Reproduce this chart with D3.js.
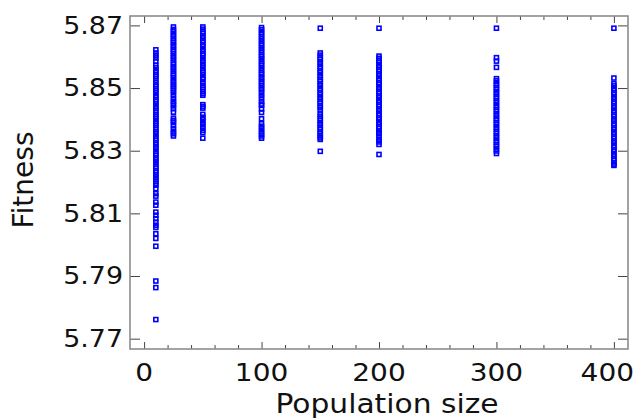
<!DOCTYPE html>
<html>
<head>
<meta charset="utf-8">
<script src="https://cdn.jsdelivr.net/npm/d3@7"></script>
<style>
    html, body { margin: 0; padding: 0; background: #fff; }
    svg { display: block; }
    text { font-family: "DejaVu Sans", sans-serif; fill: #111; }
</style>
</head>
<body>
<svg id="chart" width="636" height="418"></svg>
<script>
// population sizes (x) and fitness of every run at that size (y)
const populations = [10, 25, 50, 100, 150, 200, 300, 400];

const fit10 = [
    5.8622, 5.8612, 5.8604, 5.8596, 5.8586, 5.8572, 5.8565, 5.8556,
    5.8550, 5.8543, 5.8537, 5.8530, 5.8519, 5.8512, 5.8506, 5.8498, 5.8491, 5.8485, 5.8477, 5.8471,
    5.8463, 5.8457, 5.8450, 5.8442, 5.8436, 5.8429, 5.8423, 5.8415, 5.8408, 5.8402, 5.8394, 5.8388,
    5.8381, 5.8373, 5.8367, 5.8360, 5.8354, 5.8346, 5.8339, 5.8333, 5.8325, 5.8319, 5.8312, 5.8306,
    5.8298, 5.8291, 5.8285, 5.8277, 5.8271, 5.8264, 5.8257, 5.8250, 5.8244, 5.8236, 5.8230, 5.8223,
    5.8216, 5.8209, 5.8202, 5.8196,
    5.8190, 5.8179, 5.8163, 5.8155, 5.8136, 5.8126, 5.8104, 5.8094, 5.8083, 5.8072, 5.8062, 5.8055,
    5.8035, 5.8020, 5.7995,
    5.7884, 5.7863, 5.7761
];
const fit25 = [
    5.8695, 5.8687, 5.8680, 5.8672, 5.8666, 5.8658, 5.8651, 5.8645, 5.8637, 5.8631, 5.8623, 5.8617,
    5.8610, 5.8602, 5.8596, 5.8589, 5.8581, 5.8575, 5.8567, 5.8561, 5.8554, 5.8546, 5.8540, 5.8533,
    5.8525, 5.8519, 5.8512, 5.8506,
    5.8500, 5.8493, 5.8485, 5.8477, 5.8466, 5.8458, 5.8450, 5.8443, 5.8434, 5.8423,
    5.8404, 5.8397, 5.8390, 5.8381,
    5.8370, 5.8362, 5.8354, 5.8347
];
const fit50 = [
    5.8695, 5.8688, 5.8680, 5.8674, 5.8666, 5.8660, 5.8652, 5.8646, 5.8638, 5.8632, 5.8624, 5.8618,
    5.8610, 5.8604, 5.8596, 5.8587, 5.8580, 5.8572, 5.8564, 5.8556, 5.8549, 5.8542, 5.8534, 5.8528,
    5.8519, 5.8509, 5.8502, 5.8495, 5.8488, 5.8482, 5.8477,
    5.8447, 5.8441, 5.8436,
    5.8416, 5.8407, 5.8400, 5.8391, 5.8383, 5.8375, 5.8365, 5.8358, 5.8340
];
const fit100 = [
    5.8693, 5.8686, 5.8678, 5.8672, 5.8664, 5.8657, 5.8650, 5.8642, 5.8636, 5.8628, 5.8621, 5.8614,
    5.8606, 5.8600, 5.8593, 5.8585, 5.8578, 5.8572,
    5.8564, 5.8557, 5.8549, 5.8543, 5.8535, 5.8529, 5.8521, 5.8515, 5.8508, 5.8500, 5.8494, 5.8485,
    5.8476, 5.8468, 5.8457, 5.8449, 5.8445,
    5.8433, 5.8422, 5.8402,
    5.8386, 5.8378, 5.8370, 5.8362, 5.8354, 5.8347, 5.8340
];
const fit150 = [
    5.8691,
    5.8612, 5.8605, 5.8597, 5.8591, 5.8583, 5.8577, 5.8569, 5.8563, 5.8555, 5.8549, 5.8541, 5.8535,
    5.8527, 5.8521, 5.8513, 5.8507, 5.8499, 5.8493, 5.8485, 5.8479, 5.8471, 5.8465, 5.8457, 5.8451,
    5.8443, 5.8437, 5.8430,
    5.8417, 5.8410, 5.8402, 5.8396, 5.8388, 5.8382, 5.8374, 5.8368, 5.8360, 5.8354, 5.8347, 5.8341,
    5.8336,
    5.8298
];
const fit200 = [
    5.8691,
    5.8602, 5.8595, 5.8587, 5.8581, 5.8573, 5.8567, 5.8559, 5.8553, 5.8545, 5.8539, 5.8531, 5.8525,
    5.8517, 5.8511, 5.8503, 5.8497, 5.8489, 5.8483, 5.8475, 5.8469, 5.8461, 5.8455, 5.8447, 5.8441,
    5.8433, 5.8427, 5.8419, 5.8413, 5.8405, 5.8399, 5.8391, 5.8385, 5.8377, 5.8371, 5.8363, 5.8358,
    5.8354,
    5.8344, 5.8336, 5.8328, 5.8320,
    5.8288
];
const fit300 = [
    5.8691,
    5.8597, 5.8586, 5.8566,
    5.8530, 5.8523, 5.8515, 5.8509, 5.8501, 5.8495, 5.8487, 5.8481, 5.8473, 5.8467, 5.8459, 5.8453,
    5.8445, 5.8439, 5.8431, 5.8425, 5.8417, 5.8411, 5.8403, 5.8397, 5.8389, 5.8383, 5.8375, 5.8369,
    5.8361, 5.8355, 5.8347, 5.8341, 5.8333, 5.8327, 5.8319, 5.8313, 5.8305, 5.8299, 5.8291
];
const fit400 = [
    5.8691,
    5.8532,
    5.8514, 5.8507, 5.8499, 5.8493, 5.8485, 5.8479, 5.8471, 5.8465, 5.8457, 5.8451, 5.8443, 5.8437,
    5.8429, 5.8423, 5.8415, 5.8409, 5.8401, 5.8395, 5.8387, 5.8381, 5.8373, 5.8367, 5.8359, 5.8353,
    5.8345, 5.8339, 5.8331, 5.8325, 5.8317, 5.8311, 5.8303, 5.8297, 5.8289, 5.8283, 5.8275, 5.8269,
    5.8261, 5.8256, 5.8253
];

const xTicks = [0, 100, 200, 300, 400];
const xMinorTicks = [20, 40, 60, 80, 120, 140, 160, 180, 220, 240, 260, 280, 320, 340, 360, 380];
const yTicks = [5.77, 5.79, 5.81, 5.83, 5.85, 5.87];

const runs = [fit10, fit25, fit50, fit100, fit150, fit200, fit300, fit400];

// 点のリスト
const points = [];
populations.forEach((p, i) => {
    runs[i].forEach(v => points.push({ pop: p, fit: v }));
});

const width = 636;
const frame = { left: 130, right: 628, top: 16, bottom: 349 };
const stretch = 1.12; // tick labels look a bit wider than normal

const svg = d3.select('#chart');

const x = d3.scaleLinear()
    .domain([-12, 412])
    .range([frame.left, frame.right]);

const y = d3.scaleLinear()
    .domain([5.7667, 5.873])
    .range([frame.bottom, frame.top]);

// ticks (inward, on all four sides)
function tickAxis(axis, tx, ty) {
    const g = svg.append('g')
        .attr('transform', `translate(${tx},${ty})`)
        .call(axis);
    g.select('.domain').remove();
    g.selectAll('text').remove();
    g.selectAll('line').attr('stroke', '#444').attr('stroke-width', 1);
    return g;
}

tickAxis(d3.axisBottom(x).tickValues(xTicks).tickSize(-7), 0, frame.bottom);
tickAxis(d3.axisBottom(x).tickValues(xMinorTicks).tickSize(-4), 0, frame.bottom);
tickAxis(d3.axisTop(x).tickValues(xTicks).tickSize(-7), 0, frame.top);
tickAxis(d3.axisTop(x).tickValues(xMinorTicks).tickSize(-4), 0, frame.top);
tickAxis(d3.axisLeft(y).tickValues(yTicks).tickSize(-10), frame.left, 0);
tickAxis(d3.axisRight(y).tickValues(yTicks).tickSize(-10), frame.right, 0);

// frame
svg.append('rect')
    .attr('x', frame.left)
    .attr('y', frame.top)
    .attr('width', frame.right - frame.left)
    .attr('height', frame.bottom - frame.top)
    .attr('fill', 'none')
    .attr('stroke', '#8c8c8c')
    .attr('stroke-width', 1.6);

// tick labels
const xLabels = svg.append('g').selectAll('text')
    .data(xTicks)
    .enter()
    .append('text')
    .attr('text-anchor', 'middle')
    .attr('font-size', 25)
    .text(d => d);

// keep the last label inside the picture
xLabels.attr('transform', function (d) {
    const half = this.getComputedTextLength() * stretch / 2;
    const cx = Math.min(x(d), width - 2 - half);
    return `translate(${cx},381) scale(${stretch},1)`;
});

svg.append('g').selectAll('text')
    .data(yTicks)
    .enter()
    .append('text')
    .attr('transform', d => `translate(123,${y(d) + 8.2}) scale(${stretch},1)`)
    .attr('text-anchor', 'end')
    .attr('font-size', 24)
    .text(d => d.toFixed(2));

// axis titles
svg.append('text')
    .attr('transform', 'translate(387,412.5) scale(1.1,1)')
    .attr('text-anchor', 'middle')
    .attr('font-size', 27)
    .text('Population size');

svg.append('text')
    .attr('transform', 'translate(33,180) rotate(-90)')
    .attr('text-anchor', 'middle')
    .attr('font-size', 28)
    .text('Fitness');

// markers: small open squares
svg.append('g').selectAll('rect')
    .data(points)
    .enter()
    .append('rect')
    .attr('x', d => x(d.pop) - 2)
    .attr('y', d => y(d.fit) - 2)
    .attr('width', 4)
    .attr('height', 4)
    .attr('fill', 'none')
    .attr('stroke', '#0000ff')
    .attr('stroke-width', 1.6);
</script>
</body>
</html>
